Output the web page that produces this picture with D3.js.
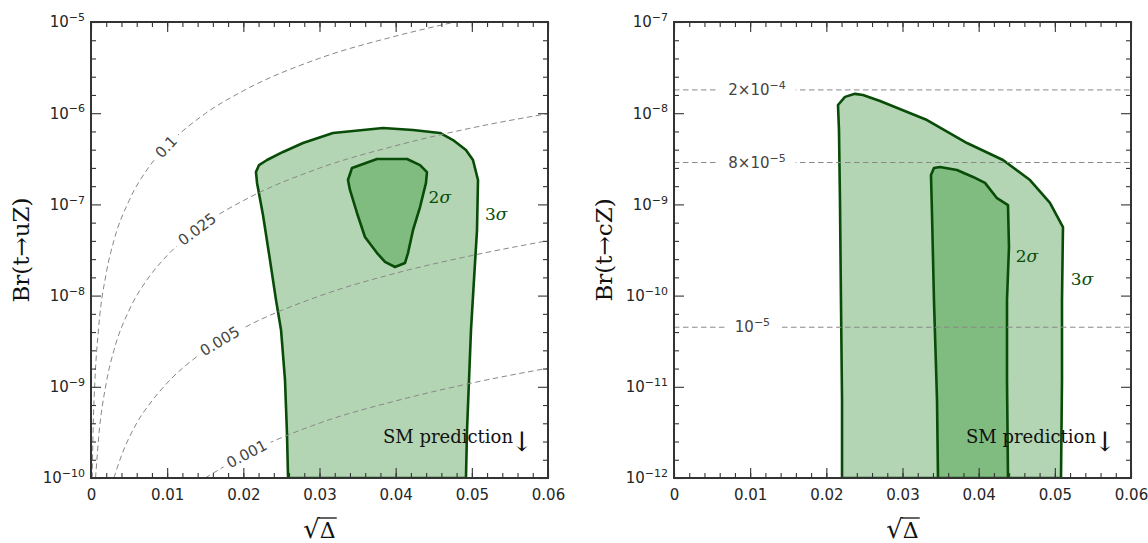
<!DOCTYPE html>
<html>
<head>
<meta charset="utf-8">
<script src="https://cdn.jsdelivr.net/npm/d3@7"></script>
<style>
  body { margin: 0; background: #fff; }
  svg { display: block; }
</style>
</head>
<body>
<svg id="chart" width="1148" height="543"></svg>
<script>
// ---- values ----
const xTicks = [0, 0.01, 0.02, 0.03, 0.04, 0.05, 0.06];
const leftDecades = [-10, -9, -8, -7, -6, -5];
const rightDecades = [-12, -11, -10, -9, -8, -7];

// left panel: dashed iso-lines, [sqrt(Delta), Br]
const isoNames = ["0.1", "0.025", "0.005", "0.001"];
const iso0100 = [[0.00015,1e-10],[0.0003,4.0e-10],[0.0005,1.1e-9],[0.001,4.4e-9],[0.002,1.76e-8],[0.003,4.0e-8],[0.005,1.1e-7],[0.0075,2.5e-7],[0.01,4.4e-7],[0.015,9.9e-7],[0.02,1.76e-6],[0.03,4.0e-6],[0.04,7.0e-6],[0.048,1.01e-5]];
const iso0025 = [[0.0006,1e-10],[0.001,2.75e-10],[0.002,1.1e-9],[0.003,2.5e-9],[0.005,6.9e-9],[0.0075,1.55e-8],[0.01,2.75e-8],[0.015,6.2e-8],[0.02,1.1e-7],[0.03,2.5e-7],[0.04,4.4e-7],[0.05,6.9e-7],[0.06,9.9e-7]];
const iso0005 = [[0.003,1e-10],[0.004,1.76e-10],[0.006,4.0e-10],[0.008,7.0e-10],[0.01,1.1e-9],[0.015,2.5e-9],[0.02,4.4e-9],[0.03,9.9e-9],[0.04,1.76e-8],[0.05,2.75e-8],[0.06,4.0e-8]];
const iso0001 = [[0.015,1e-10],[0.02,1.76e-10],[0.03,4.0e-10],[0.04,7.0e-10],[0.05,1.1e-9],[0.06,1.6e-9]];
const isoLabelX = [0.00985, 0.0139, 0.0169, 0.0204];

// left panel regions
const left3sigma = [[0.02587,1e-10],[0.02573,3.1e-10],[0.02547,1.19e-9],[0.02495,4.2e-9],[0.02429,8.95e-9],[0.0235,2.45e-8],[0.02258,7.65e-8],[0.0218,1.72e-7],[0.02166,2.26e-7],[0.02206,2.7e-7],[0.02311,3.07e-7],[0.02521,3.76e-7],[0.02783,4.71e-7],[0.03177,6.07e-7],[0.03834,6.89e-7],[0.04228,6.55e-7],[0.04582,6.07e-7],[0.04753,5.08e-7],[0.04923,3.94e-7],[0.05015,3.07e-7],[0.05081,1.85e-7],[0.05068,5.24e-8],[0.05028,1.48e-8],[0.04989,4.2e-9],[0.04963,1.19e-9],[0.04937,3.36e-10],[0.04923,1e-10]];
const left2sigma = [[0.03374,1.85e-7],[0.03427,2.51e-7],[0.03755,3.15e-7],[0.04149,3.15e-7],[0.0432,2.7e-7],[0.04411,2.26e-7],[0.04398,1.72e-7],[0.0432,9.35e-8],[0.04228,5.24e-8],[0.04162,2.93e-8],[0.04123,2.28e-8],[0.03991,2.06e-8],[0.0386,2.34e-8],[0.03755,2.93e-8],[0.03597,4.39e-8],[0.03492,8.05e-8],[0.034,1.44e-7]];

// right panel regions
const right3sigma = [[0.02206,1e-12],[0.02206,7.16e-12],[0.02192,8.95e-11],[0.02179,1.12e-9],[0.02166,6.55e-9],[0.02153,1.23e-8],[0.02245,1.51e-8],[0.02376,1.63e-8],[0.02481,1.58e-8],[0.02705,1.36e-8],[0.03322,8.42e-9],[0.03847,4.71e-9],[0.04319,3.07e-9],[0.04674,1.85e-9],[0.04936,1.04e-9],[0.05107,5.65e-10],[0.05094,8.95e-11],[0.05094,1.19e-11],[0.05081,1e-12]];
const right2sigma = [[0.03466,1e-12],[0.03453,7.16e-12],[0.03413,8.95e-11],[0.03387,8.05e-10],[0.03374,2.1e-9],[0.03413,2.51e-9],[0.03492,2.57e-9],[0.03715,2.38e-9],[0.03926,2.0e-9],[0.04083,1.72e-9],[0.04241,1.17e-9],[0.04385,9.84e-10],[0.04398,3.41e-10],[0.04372,8.95e-11],[0.04372,1.19e-11],[0.04385,1e-12]];

// right panel: horizontal iso-lines
const rightLevels = [1.8e-8, 2.88e-9, 4.5e-11];
const rightLevelBase = ["2×10", "8×10", "10"];
const rightLevelExp = ["−4", "−5", "−5"];
const rightLevelX = [0.0109, 0.0109, 0.0103];

// sigma label positions [x, Br]
const leftSigmaPos = [[0.0458, 1.2e-7], [0.0532, 7.85e-8]];
const rightSigmaPos = [[0.04634, 2.72e-10], [0.05357, 1.52e-10]];
const sigmaNames = ["2", "3"];

// ---- drawing ----
const svg = d3.select("#chart");
const marginTop = 22, h = 456, w = 457;
const lightFill = "#b3d5b3", darkFill = "#80bb80", edge = "#084c08";
const sans = "DejaVu Sans", serif = "DejaVu Serif";

function panel(id, left, decades) {
  const g = svg.append("g").attr("transform", `translate(${left},${marginTop})`);
  const x = d3.scaleLinear().domain([0, 0.06]).range([0, w]);
  const y = d3.scaleLog().domain([10 ** decades[0], 10 ** decades[decades.length - 1]]).range([h, 0]);

  g.append("clipPath").attr("id", "clip" + id)
    .append("rect").attr("width", w).attr("height", h);
  const plot = g.append("g").attr("clip-path", `url(#clip${id})`);
  return { g, plot, x, y };
}

function axes(p, decades) {
  const { g, x, y } = p;
  const minorX = d3.range(0, 31).map(i => i * 0.002);
  const minorY = [];
  for (let k = decades[0]; k < decades[decades.length - 1]; k++) {
    [0.2, 0.4, 0.6, 0.8].forEach(f => minorY.push(10 ** (k + f)));
  }
  const majorY = decades.map(k => 10 ** k);

  const add = (axis, tr) => {
    const a = g.append("g").attr("transform", tr || null).call(axis);
    a.select(".domain").remove();
    a.selectAll(".tick line").attr("stroke", "#333").attr("stroke-width", 1.1);
    a.attr("font-family", sans).attr("font-size", 15);
    a.selectAll(".tick text").attr("fill", "#262626");
    return a;
  };

  add(d3.axisBottom(x).tickValues(minorX).tickSize(-5).tickFormat(""), `translate(0,${h})`);
  add(d3.axisBottom(x).tickValues(xTicks).tickSize(-10).tickPadding(11)
    .tickFormat(d => d === 0 ? "0" : d3.format(".2f")(d)), `translate(0,${h})`);
  add(d3.axisTop(x).tickValues(minorX).tickSize(-5).tickFormat(""));
  add(d3.axisTop(x).tickValues(xTicks).tickSize(-10).tickFormat(""));

  add(d3.axisRight(y).tickValues(minorY).tickSize(-5).tickFormat(""), `translate(${w},0)`);
  add(d3.axisRight(y).tickValues(majorY).tickSize(-10).tickFormat(""), `translate(${w},0)`);
  add(d3.axisLeft(y).tickValues(minorY).tickSize(-5).tickFormat(""));
  const yl = add(d3.axisLeft(y).tickValues(majorY).tickSize(-10).tickPadding(6).tickFormat(""));
  yl.selectAll(".tick text").each(function (d) {
    const t = d3.select(this);
    t.append("tspan").text("10");
    t.append("tspan").attr("dy", "-0.55em").attr("font-size", 11)
      .text("−" + Math.round(-Math.log10(d)));
  });

  g.append("rect").attr("width", w).attr("height", h)
    .attr("fill", "none").attr("stroke", "#333").attr("stroke-width", 2);
}

function regions(p, outer, inner) {
  const area = d3.line().x(d => p.x(d[0])).y(d => p.y(d[1])).curve(d3.curveLinearClosed);
  p.plot.append("path").attr("d", area(outer))
    .attr("fill", lightFill).attr("stroke", edge).attr("stroke-width", 2.6).attr("stroke-linejoin", "round");
  p.plot.append("path").attr("d", area(inner))
    .attr("fill", darkFill).attr("stroke", edge).attr("stroke-width", 2.6).attr("stroke-linejoin", "round");
}

function sigmaLabels(p, pos) {
  pos.forEach((d, i) => {
    const t = p.g.append("text").attr("x", p.x(d[0])).attr("y", p.y(d[1]))
      .attr("dy", "0.35em").attr("text-anchor", "middle")
      .attr("font-family", serif).attr("font-size", 17).attr("fill", edge);
    t.append("tspan").text(sigmaNames[i]);
    t.append("tspan").attr("font-style", "italic").text("σ");
  });
}

function titles(p, yTitle) {
  const { g } = p;
  g.append("text").attr("transform", `translate(-70,${h / 2}) rotate(-90)`)
    .attr("dy", "0.35em").attr("text-anchor", "middle")
    .attr("font-family", serif).attr("font-size", 23).attr("fill", "#111")
    .text(yTitle);

  const xt = g.append("text").attr("x", w / 2).attr("y", h + 60)
    .attr("text-anchor", "middle").attr("font-family", serif).attr("fill", "#111");
  xt.append("tspan").attr("font-size", 26).text("√");
  xt.append("tspan").attr("font-size", 22).text("Δ");
  const bb = xt.node().getBBox();
  const rw = xt.node().getSubStringLength(0, 1);
  g.append("line")
    .attr("x1", bb.x + rw - 1).attr("x2", bb.x + bb.width + 1)
    .attr("y1", bb.y + 4).attr("y2", bb.y + 4)
    .attr("stroke", "#111").attr("stroke-width", 1.3);

  g.append("text").attr("x", w - 35).attr("y", h - 35).attr("text-anchor", "end")
    .attr("font-family", serif).attr("font-size", 18).attr("fill", "#111")
    .text("SM prediction");
  g.append("text").attr("x", w - 26).attr("y", h - 27).attr("text-anchor", "middle")
    .attr("font-family", serif).attr("font-size", 27).attr("fill", "#111")
    .text("↓");
}

// label with a white gap cut into a dashed line
function gapLabel(g, cx, cy, angle, build, pad) {
  const lg = g.append("g").attr("transform", `translate(${cx},${cy}) rotate(${angle})`);
  const bg = lg.append("rect").attr("fill", "#fff");
  const t = lg.append("text").attr("text-anchor", "middle").attr("dy", "0.35em")
    .attr("font-family", sans).attr("font-size", 15).attr("fill", "#444");
  build(t);
  const bb = t.node().getBBox();
  bg.attr("x", bb.x - pad).attr("y", -7).attr("width", bb.width + 2 * pad).attr("height", 14);
}

const dash = { stroke: "#888", width: 1, array: "5.5,3.5" };

// ---------- left panel ----------
const L = panel("L", 91, leftDecades);
regions(L, left3sigma, left2sigma);

const isoCurves = [iso0100, iso0025, iso0005, iso0001];
const isoLine = d3.line().x(d => L.x(d[0])).y(d => L.y(d[1])).curve(d3.curveMonotoneX);
isoCurves.forEach((c, i) => {
  const path = L.plot.append("path").attr("d", isoLine(c)).attr("fill", "none")
    .attr("stroke", dash.stroke).attr("stroke-width", dash.width).attr("stroke-dasharray", dash.array);
  // find the label point on the drawn curve
  const node = path.node(), len = node.getTotalLength();
  const tx = L.x(isoLabelX[i]);
  let s = 0;
  for (let l = 0; l < len; l += 0.5) {
    if (node.getPointAtLength(l).x >= tx) { s = l; break; }
  }
  const pt = node.getPointAtLength(s);
  const a = node.getPointAtLength(Math.max(0, s - 8)), b = node.getPointAtLength(Math.min(len, s + 8));
  const ang = Math.atan2(b.y - a.y, b.x - a.x) * 180 / Math.PI;
  gapLabel(L.plot, pt.x, pt.y, ang, t => t.text(isoNames[i]), 5);
});

sigmaLabels(L, leftSigmaPos);
axes(L, leftDecades);
titles(L, "Br(t→uZ)");

// ---------- right panel ----------
const R = panel("R", 674, rightDecades);
regions(R, right3sigma, right2sigma);

rightLevels.forEach((v, i) => {
  R.plot.append("line")
    .attr("x1", R.x.range()[0]).attr("x2", R.x.range()[1])
    .attr("y1", R.y(v)).attr("y2", R.y(v))
    .attr("stroke", dash.stroke).attr("stroke-width", dash.width).attr("stroke-dasharray", dash.array);
  gapLabel(R.plot, R.x(rightLevelX[i]), R.y(v), 0, t => {
    t.append("tspan").text(rightLevelBase[i]);
    t.append("tspan").attr("dy", "-0.55em").attr("font-size", 11).text(rightLevelExp[i]);
  }, 10);
});

sigmaLabels(R, rightSigmaPos);
axes(R, rightDecades);
titles(R, "Br(t→cZ)");
</script>
</body>
</html>
